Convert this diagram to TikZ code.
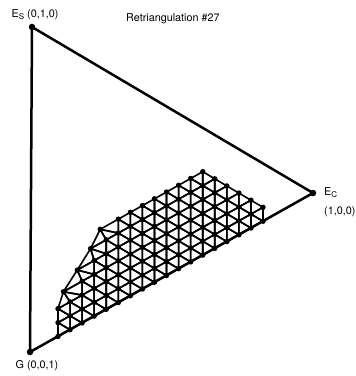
\documentclass[tikz,border=0pt]{standalone}
\usepackage{fontspec}
\setmainfont{TeX Gyre Heros}
\tikzset{
  frame/.style={line width=2.5pt, line join=round},
  mesh/.style={line width=1.6pt, line join=round},
  corner/.style={circle, fill, inner sep=0pt, minimum size=6.5pt},
  vert/.style={circle, fill, inner sep=0pt, minimum size=5.4pt},
  lbl/.style={font=\fontsize{10.8}{12}\selectfont, inner sep=0pt}
}
\newcommand\lsub[1]{\raisebox{-2.6pt}{\fontsize{8}{9}\selectfont #1}}
% one mesh triangle
\newcommand\meshtri[3]{%
  \draw[mesh] (#1.center) -- (#2.center) -- (#3.center) -- cycle;}
\begin{document}
\begin{tikzpicture}[x=1pt, y=-1pt]
  \useasboundingbox (0,0) rectangle (356,376);
  \node[corner] (ES) at (32,27) {};
  \node[corner] (EC) at (313,193) {};
  \node[corner] (G) at (30,352) {};
  \draw[frame] (ES.center) -- (EC.center) -- (G.center) -- cycle;

  \node[lbl, anchor=base] (esl) at ([xshift=3pt, yshift=10pt]ES) {E\lsub{S} (0,1,0)};
  \node[lbl, anchor=base west] (ecl) at ([xshift=11pt, yshift=-2pt]EC) {E\lsub{C}};
  \node[lbl, anchor=base west] (ecc) at ([xshift=11pt, yshift=-21pt]EC) {(1,0,0)};
  \node[lbl, anchor=base] (gl) at ([xshift=7pt, yshift=-16pt]G) {G (0,0,1)};
  \node[lbl, anchor=base west] (title) at (126,21) {Retriangulation \#27};

  % mesh in the lattice of the big triangle
  \begin{scope}[shift={(58,336.5)}, x={(12.06pt,6.78pt)}, y={(0pt,13.91pt)}]
    \foreach \j/\lo/\hi/\d in {0/0/17/0, 1/0/17/0, 2/0/16/0, 3/1/15/0.55,
                               4/2/14/0.4, 5/3/13/0.3, 6/4/12/0.5} {
      \foreach \i in {\lo,...,\hi} {
        \pgfmathsetmacro\xx{\i==\lo ? \i-\d : \i}
        \node[vert] (m-\i-\j) at (\xx,\j) {};
      }
    }
    \foreach \j/\lo/\ta/\tb in {0/0/16/16, 1/0/16/15, 2/1/15/14, 3/2/14/13, 4/3/13/12, 5/4/12/11} {
      \pgfmathtruncatemacro\jj{\j+1}
      \foreach \i in {\lo,...,\ta} {
        \pgfmathtruncatemacro\ii{\i+1}
        \meshtri{m-\i-\j}{m-\ii-\j}{m-\i-\jj}
      }
      \foreach \i in {\lo,...,\tb} {
        \pgfmathtruncatemacro\ii{\i+1}
        \meshtri{m-\ii-\j}{m-\ii-\jj}{m-\i-\jj}
      }
    }
    % left rim
    \foreach \a/\b/\c in {0-2/1-2/1-3, 1-3/2-3/2-4, 2-4/3-4/3-5, 3-5/4-5/4-6} {
      \meshtri{m-\a}{m-\b}{m-\c}
    }
  \end{scope}
\end{tikzpicture}
\end{document}
